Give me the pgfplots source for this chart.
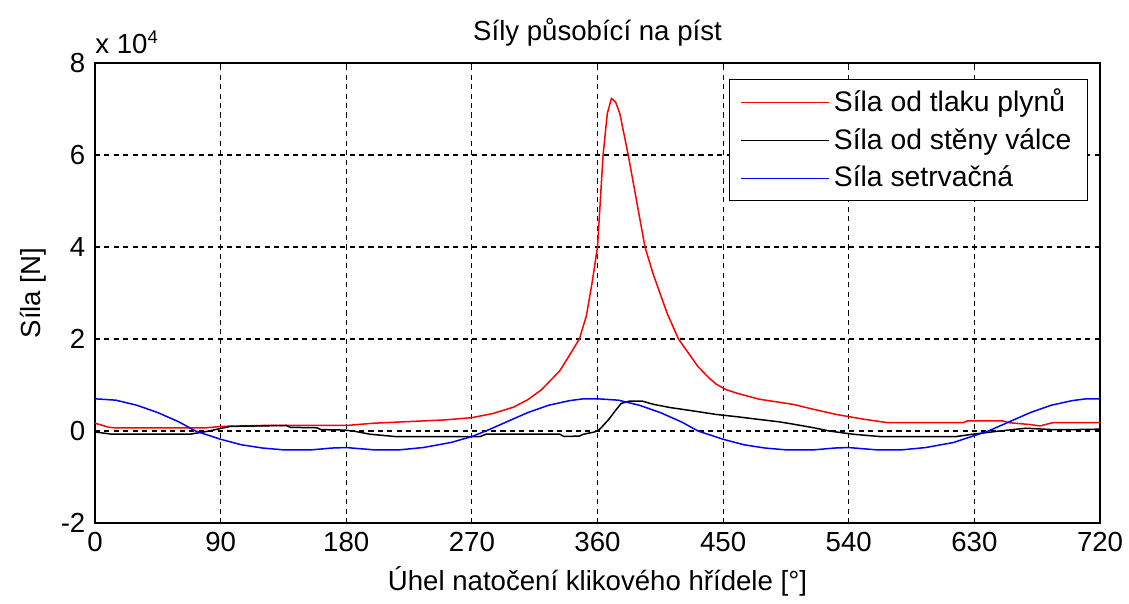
\documentclass[border=0pt]{standalone}
\usepackage{fontspec}
\setmainfont{Liberation Sans}
\usepackage{pgfplots}
\pgfplotsset{compat=1.18}

\pgfplotstableread{
x y
0 0.17
10 0.08
14 0.07
80 0.07
90 0.10
120 0.12
180 0.12
200 0.17
250 0.24
270 0.29
285 0.38
300 0.52
310 0.68
320 0.90
333 1.31
340 1.65
347 2.0
352 2.5
356 3.2
360 4.0
362 5.0
364 6.0
367 6.9
370 7.23
373 7.15
376 6.9
379 6.45
382 6.0
388 5.0
394 4.0
400 3.4
410 2.55
418 2.0
425 1.7
432 1.4
440 1.15
445 1.02
452 0.90
460 0.82
476 0.69
500 0.58
515 0.47
531 0.36
550 0.26
568 0.18
622 0.18
625 0.22
650 0.22
655 0.18
670 0.14
677 0.11
686 0.18
720 0.18
}\gas

\pgfplotstableread{
x y
0 -0.02
12 -0.07
68 -0.07
80 -0.01
97 0.10
137 0.12
140 0.08
159 0.07
162 0.03
179 0.02
185 0.0
197 -0.07
215 -0.12
276 -0.12
280 -0.07
333 -0.07
336 -0.12
347 -0.11
350 -0.07
358 -0.02
362 0.05
368 0.25
373 0.45
377 0.60
383 0.65
392 0.65
400 0.58
412 0.51
430 0.43
445 0.36
460 0.31
476 0.25
490 0.20
500 0.15
515 0.07
526 0.0
543 -0.07
562 -0.12
617 -0.12
629 -0.07
648 0.0
667 0.06
686 0.03
700 0.03
720 0.04
}\wall

\pgfplotstableread{
x y
0 0.70
15 0.67
30 0.56
45 0.40
60 0.20
72 0.0
90 -0.18
105 -0.30
120 -0.37
135 -0.41
155 -0.41
170 -0.37
180 -0.36
200 -0.41
218 -0.41
235 -0.36
255 -0.25
270 -0.12
280 0.0
295 0.20
310 0.40
325 0.56
340 0.66
350 0.70
360 0.70
375 0.67
390 0.56
405 0.40
420 0.20
432 0.0
450 -0.18
465 -0.30
480 -0.37
495 -0.41
515 -0.41
530 -0.37
540 -0.36
560 -0.41
578 -0.41
595 -0.36
615 -0.25
630 -0.10
640 0.0
655 0.20
670 0.40
685 0.56
700 0.66
710 0.70
720 0.70
}\inertia

\begin{document}
\fontsize{12}{14}\selectfont
\begin{tikzpicture}
\begin{axis}[
  scale only axis,
  width=437pt, height=200pt,
  xmin=0, xmax=720, ymin=-2, ymax=8,
  xtick={0,90,...,720},
  ytick={-2,0,2,4,6,8},
  /pgf/number format/assume math mode=true,
  tick label style={font=\fontsize{12}{14}\selectfont},
  label style={font=\fontsize{12}{14}\selectfont},
  title style={font=\fontsize{12}{14}\selectfont, yshift=-3pt},
  title={Síly působící na píst},
  xlabel={Úhel natočení klikového hřídele [°]},
  ylabel={Síla [N]},
  ylabel style={yshift=-2pt},
  xlabel style={yshift=2pt},
  tick align=inside,
  major tick length=2pt,
  xtick pos=both, ytick pos=both,
  grid=major,
  major grid style={black, line width=0.45pt, dash pattern=on 2.2pt off 1.9pt},
  axis line style={black, line width=0.5pt},
  every tick/.style={black, line width=0.5pt},
  legend style={at={(0.988,0.965)}, anchor=north east, draw=black,
    font=\fontsize{12.3}{14}\selectfont, inner xsep=5pt, inner ysep=2pt,
    row sep=1.5pt, cells={anchor=west}},
  legend cell align=left,
  legend image code/.code={\draw[#1, line width=0.45pt] (0pt,0pt) -- (38pt,0pt);},
  clip=false,
]
\addplot[red, line width=0.65pt] table {\gas};
\addlegendentry{Síla od tlaku plynů}
\addplot[black, line width=0.65pt] table {\wall};
\addlegendentry{Síla od stěny válce}
\addplot[blue, line width=0.65pt] table {\inertia};
\addlegendentry{Síla setrvačná}
\node[anchor=south west, inner sep=0pt, font=\fontsize{12}{14}\selectfont] at ([yshift=4pt]rel axis cs:0,1) {x 10\textsuperscript{4}};
\end{axis}
\pgfresetboundingbox
\path ([shift={(-41.3pt,-34.8pt)}]current axis.south west) rectangle ([shift={(12.6pt,27.4pt)}]current axis.north east);
\end{tikzpicture}
\end{document}
